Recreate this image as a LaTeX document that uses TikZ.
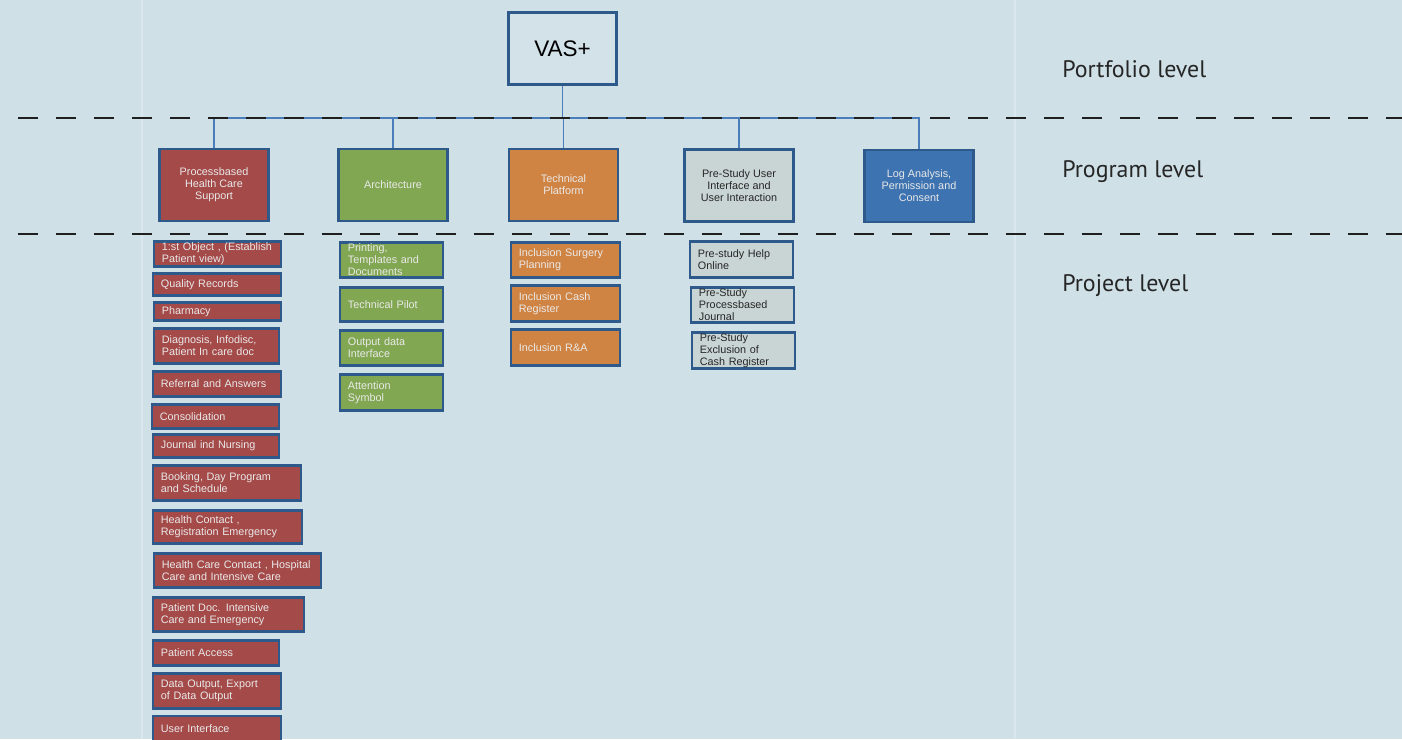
\documentclass[tikz,border=0pt]{standalone}
\usepackage{fontspec}
\setmainfont{Liberation Sans}
\newfontfamily\levelfont{PT Sans}

\definecolor{bg}{HTML}{CFE0E7}
\definecolor{faint}{HTML}{DAE7ED}
\definecolor{edgeblue}{HTML}{2D5A8A}
\definecolor{linkblue}{HTML}{4A7EBB}
\definecolor{vasfill}{HTML}{D3E2E9}
\definecolor{redbox}{HTML}{A44A49}
\definecolor{greenbox}{HTML}{82A752}
\definecolor{orangebox}{HTML}{D08443}
\definecolor{greybox}{HTML}{C9D5D4}
\definecolor{bluebox}{HTML}{3D73B0}
\definecolor{lighttext}{HTML}{E9E9E9}

\tikzset{
  box/.style={draw=edgeblue, line width=0.7mm, inner xsep=2mm, inner ysep=0.3mm,
    font=\fontsize{7.7}{8.5}\selectfont},
  prog/.style={box, minimum width=27.25mm, minimum height=18mm, align=center},
  proj/.style={box, anchor=west, align=left},
  level/.style={anchor=base west, inner sep=0pt, text=black!85,
    font=\levelfont\fontsize{17}{20}\selectfont},
  link/.style={draw=linkblue, line width=1pt},
  levelline/.style={draw=black!88, line width=1.9pt, dash pattern=on 5mm off 4.5mm}
}

\begin{document}
\begin{tikzpicture}[x=0.25mm, y=-0.25mm]

      \fill[bg] (0,0) rectangle (1402,739);
      \useasboundingbox (0,0) rectangle (1402,739);
      \draw[faint, line width=0.3mm] (142,0) -- (142,739);
      \draw[faint, line width=0.3mm] (1015,0) -- (1015,739);

      % portfolio and program level
      \node[box, fill=vasfill, minimum width=27mm, minimum height=18mm,
        font=\fontsize{16}{18}\selectfont] (vas) at (562.5,48.5) {VAS+};

      \begin{scope}[every node/.style={prog}]
        \node[fill=redbox, text=lighttext]    (health)  at (214,185)   {Processbased\\Health Care\\Support};
        \node[fill=greenbox, text=lighttext]  (arch)    at (393,185)   {Architecture};
        \node[fill=orangebox, text=lighttext] (tech)    at (563.5,185) {Technical\\Platform};
        \node[fill=greybox, text=black!85]    (uistudy) at (739,185.5) {Pre-Study User\\Interface and\\User Interaction};
        \node[fill=bluebox, text=lighttext]   (logan)   at (919,186)   {Log Analysis,\\Permission and\\Consent};
      \end{scope}

      \coordinate (bus) at (562.5,118);
      \draw[link] (vas.south) -- (bus);
      \foreach \p in {health,arch,tech,uistudy,logan}
        \draw[link] (bus) -| (\p.north);

      % project level
      \begin{scope}[every node/.style={proj, fill=redbox, text=lighttext}]
        \node[text width=27.75mm, minimum height=5.25mm] (obj)      at (152.5,254)   {1:st Object , (Establish\\Patient view)};
        \node[text width=28mm,    minimum height=5.5mm]  (quality)  at (151.5,284.5) {Quality Records};
        \node[text width=27.75mm, minimum height=4.5mm]  (pharmacy) at (152.5,311.5) {Pharmacy};
        \node[text width=27.25mm, minimum height=8.75mm] (diag)     at (152.5,346)   {Diagnosis, Infodisc,\\Patient In care doc};
        \node[text width=28mm,    minimum height=6.25mm] (referral) at (151.5,384)   {Referral and Answers};
        \node[text width=27.75mm, minimum height=6mm]    (consol)   at (150.5,416.5) {Consolidation};
        \node[text width=27.5mm,  minimum height=5.75mm] (journal)  at (151.5,446)   {Journal ind Nursing};
        \node[text width=33mm,    minimum height=8.75mm] (booking)  at (151.5,483)   {Booking, Day Program\\and Schedule};
        \node[text width=33.25mm, minimum height=8.25mm] (contact)  at (151.5,527)   {Health Contact ,\\Registration Emergency};
        \node[text width=37.75mm, minimum height=8.5mm]  (hospital) at (152.5,570.5) {Health Care Contact , Hospital\\Care and Intensive Care};
        \node[text width=33.75mm, minimum height=8.5mm]  (patdoc)   at (151.5,614.5) {Patient Doc. Intensive\\Care and Emergency};
        \node[text width=27.5mm,  minimum height=6.25mm] (access)   at (151.5,653)   {Patient Access};
        \node[text width=28mm,    minimum height=8.75mm] (export)   at (151.5,691)   {Data Output, Export\\of Data Output};
        \node[text width=28mm,    minimum height=6.5mm]  (userif)   at (151.5,729)   {User Interface};
      \end{scope}

      \begin{scope}[every node/.style={proj, fill=greenbox, text=lighttext, text width=21.75mm}]
        \node[minimum height=8.75mm] (printing)  at (338.5,260)   {Printing,\\Templates and\\Documents};
        \node[minimum height=8.5mm]  (pilot)     at (338.5,304.5) {Technical Pilot};
        \node[minimum height=8.75mm] (outdata)   at (338.5,348)   {Output data\\Interface};
        \node[minimum height=9mm]    (attention) at (338.5,392.5) {Attention\\Symbol};
      \end{scope}

      \begin{scope}[every node/.style={proj, fill=orangebox, text=lighttext, text width=23.25mm}]
        \node[minimum height=8.75mm] (surgery) at (509.5,260)   {Inclusion Surgery\\Planning};
        \node[minimum height=9mm]    (cash)    at (509.5,303.5) {Inclusion Cash\\Register};
        \node[minimum height=9mm]    (ra)      at (509.5,347.5) {Inclusion R\&A};
      \end{scope}

      \begin{scope}[every node/.style={proj, fill=greybox, text=black!85, text width=21.75mm}]
        \node[minimum height=9mm]    (help)      at (688.5,259.5) {Pre-study Help\\Online};
        \node[minimum height=8.75mm] (pbjournal) at (689.5,305)   {Pre-Study\\Processbased\\Journal};
        \node[minimum height=9mm]    (exclusion) at (690.5,350.5) {Pre-Study\\Exclusion of\\Cash Register};
      \end{scope}

      % level borders and names
      \draw[levelline] (18,118) -- (1402,118);
      \draw[levelline] (18,234) -- (1402,234);

      \node[level] (portfolio) at (1062,77)  {Portfolio level};
      \node[level] (program)   at (1062,177) {Program level};
      \node[level] (project)   at (1062,291) {Project level};

    \end{tikzpicture}
\end{document}
